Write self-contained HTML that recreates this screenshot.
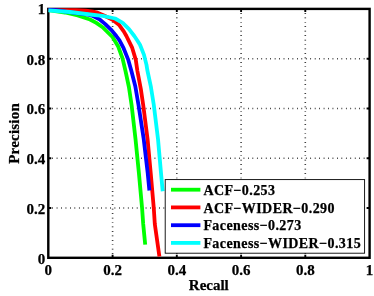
<!DOCTYPE html><html><head><meta charset="utf-8"><style>html,body{margin:0;padding:0;background:#fff}svg{display:block;will-change:transform}text{font-family:"Liberation Serif",serif;font-weight:bold;font-size:15px;fill:#000;stroke:#000;stroke-width:0.25px}</style></head><body>
<svg width="374" height="296" viewBox="0 0 374 296">
<rect width="374" height="296" fill="#fff"/>
<line x1="112.6" y1="257.8" x2="112.6" y2="8.9" stroke="#000" stroke-width="1.6" stroke-dasharray="0.7 3.75" fill="none" stroke-dashoffset="0.65"/>
<line x1="48.3" y1="208.0" x2="369.6" y2="208.0" stroke="#000" stroke-width="1.6" stroke-dasharray="0.7 3.75" fill="none" stroke-dashoffset="0.5"/>
<line x1="176.8" y1="257.8" x2="176.8" y2="8.9" stroke="#000" stroke-width="1.6" stroke-dasharray="0.7 3.75" fill="none" stroke-dashoffset="0.65"/>
<line x1="48.3" y1="158.2" x2="369.6" y2="158.2" stroke="#000" stroke-width="1.6" stroke-dasharray="0.7 3.75" fill="none" stroke-dashoffset="0.5"/>
<line x1="241.1" y1="257.8" x2="241.1" y2="8.9" stroke="#000" stroke-width="1.6" stroke-dasharray="0.7 3.75" fill="none" stroke-dashoffset="0.65"/>
<line x1="48.3" y1="108.5" x2="369.6" y2="108.5" stroke="#000" stroke-width="1.6" stroke-dasharray="0.7 3.75" fill="none" stroke-dashoffset="0.5"/>
<line x1="305.3" y1="257.8" x2="305.3" y2="8.9" stroke="#000" stroke-width="1.6" stroke-dasharray="0.7 3.75" fill="none" stroke-dashoffset="0.65"/>
<line x1="48.3" y1="58.7" x2="369.6" y2="58.7" stroke="#000" stroke-width="1.6" stroke-dasharray="0.7 3.75" fill="none" stroke-dashoffset="0.5"/>
<rect x="48.3" y="8.9" width="321.3" height="248.9" fill="none" stroke="#000" stroke-width="2.4"/>
<path d="M112.6 257.8v-3M112.6 8.9v3M48.3 208.0h3M369.6 208.0h-3" stroke="#000" stroke-width="1.9" fill="none"/>
<path d="M176.8 257.8v-3M176.8 8.9v3M48.3 158.2h3M369.6 158.2h-3" stroke="#000" stroke-width="1.9" fill="none"/>
<path d="M241.1 257.8v-3M241.1 8.9v3M48.3 108.5h3M369.6 108.5h-3" stroke="#000" stroke-width="1.9" fill="none"/>
<path d="M305.3 257.8v-3M305.3 8.9v3M48.3 58.7h3M369.6 58.7h-3" stroke="#000" stroke-width="1.9" fill="none"/>
<polyline points="48.5,10.2 65.1,12.5 77.7,15.5 90.0,19.5 96.3,22.9 102.6,27.2 108.9,33.5 112.5,37.0 114.2,39.8 118.2,46.5 122.6,58.6 125.5,71.0 128.9,87.0 131.6,105.0 135.5,139.0 138.9,173.0 142.1,208.4 143.2,224.0 145.2,244.6" fill="none" stroke="#00ff00" stroke-width="3.8" stroke-linejoin="round" stroke-linecap="butt"/>
<polyline points="48.5,10.1 62.0,10.1 76.0,10.1 86.0,10.6 93.0,11.6 97.5,12.7 104.5,15.8 112.6,19.7 118.9,24.7 123.9,31.6 126.4,36.0 128.3,39.8 132.0,47.3 135.8,59.9 137.4,71.0 140.8,88.9 143.2,105.0 147.6,139.5 150.7,173.0 153.8,208.4 154.8,224.0 159.4,256.5" fill="none" stroke="#ff0000" stroke-width="3.8" stroke-linejoin="round" stroke-linecap="butt"/>
<polyline points="48.5,9.9 56.0,10.1 62.0,10.8 66.0,11.6 70.0,12.2 80.0,13.6 88.0,14.6 92.0,15.6 96.0,17.5 100.0,19.7 105.3,24.1 111.7,30.4 116.3,36.0 119.5,40.4 123.2,47.3 128.3,59.9 131.4,71.0 135.3,86.3 138.5,105.0 143.7,139.0 147.7,173.0 149.4,190.5" fill="none" stroke="#0000ff" stroke-width="3.8" stroke-linejoin="round" stroke-linecap="butt"/>
<polyline points="48.5,10.3 70.0,12.0 90.0,14.5 102.6,15.9 115.1,18.5 122.7,22.9 129.0,29.1 134.3,36.0 137.3,40.5 140.0,44.8 144.0,54.9 146.5,64.9 147.3,70.0 150.8,86.3 153.8,105.0 158.0,139.0 161.0,173.0 162.7,191.2" fill="none" stroke="#00ffff" stroke-width="3.8" stroke-linejoin="round" stroke-linecap="butt"/>
<text x="48.3" y="275" text-anchor="middle">0</text>
<text x="45.3" y="263.6" text-anchor="end">0</text>
<text x="112.6" y="275" text-anchor="middle">0.2</text>
<text x="45.3" y="213.8" text-anchor="end">0.2</text>
<text x="176.8" y="275" text-anchor="middle">0.4</text>
<text x="45.3" y="164.0" text-anchor="end">0.4</text>
<text x="241.1" y="275" text-anchor="middle">0.6</text>
<text x="45.3" y="114.3" text-anchor="end">0.6</text>
<text x="305.3" y="275" text-anchor="middle">0.8</text>
<text x="45.3" y="64.5" text-anchor="end">0.8</text>
<text x="369.6" y="275" text-anchor="middle">1</text>
<text x="45.3" y="14.1" text-anchor="end">1</text>
<text x="208.8" y="289.8" text-anchor="middle">Recall</text>
<text transform="translate(18.6,133.4) rotate(-90)" text-anchor="middle" letter-spacing="0.2">Precision</text>
<rect x="165.2" y="179.6" width="199.4" height="73.6" fill="#fff" stroke="#000" stroke-width="0.9"/>
<line x1="171" y1="189.7" x2="200.4" y2="189.7" stroke="#00ff00" stroke-width="3.8"/>
<text x="203.4" y="195.0" font-size="14" letter-spacing="0.42" style="font-size:14px">ACF−0.253</text>
<line x1="171" y1="207.4" x2="200.4" y2="207.4" stroke="#ff0000" stroke-width="3.8"/>
<text x="203.4" y="212.6" font-size="14" letter-spacing="0.42" style="font-size:14px">ACF−WIDER−0.290</text>
<line x1="171" y1="225.2" x2="200.4" y2="225.2" stroke="#0000ff" stroke-width="3.8"/>
<text x="203.4" y="230.2" font-size="14" letter-spacing="0.42" style="font-size:14px">Faceness−0.273</text>
<line x1="171" y1="242.9" x2="200.4" y2="242.9" stroke="#00ffff" stroke-width="3.8"/>
<text x="203.4" y="247.8" font-size="14" letter-spacing="0.42" style="font-size:14px">Faceness−WIDER−0.315</text>
</svg></body></html>
